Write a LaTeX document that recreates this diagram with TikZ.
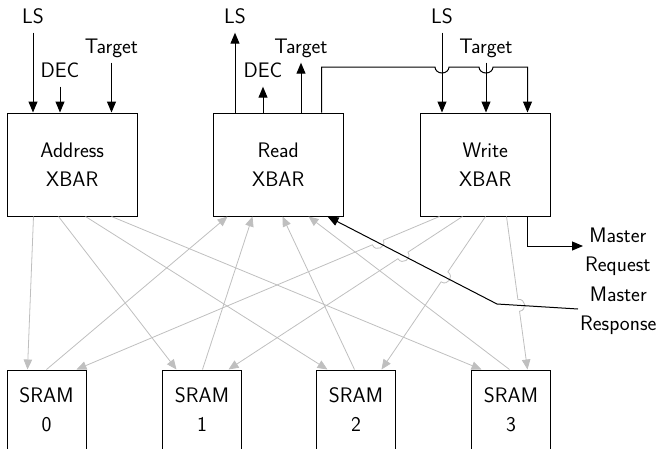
\documentclass[tikz,border=0pt]{standalone}
\usepackage{fontspec}
\usetikzlibrary{arrows.meta,calc,intersections}

\begin{document}
\begin{tikzpicture}[x=1pt,y=-1pt,
  lbl/.style={font=\fontsize{21}{29}\selectfont\sffamily, align=center},
  blk/.style={lbl, draw=black, line width=1pt, minimum width=129.5pt, minimum height=103pt, inner sep=0pt},
  mem/.style={lbl, draw=black, line width=1pt, minimum width=79pt, minimum height=80pt, inner sep=0pt},
  toplbl/.style={lbl, inner xsep=0pt, inner ysep=9.5pt, text depth=0pt, anchor=base},
  sig/.style={line width=1pt, -{Triangle[length=11pt,width=9pt]}},
  xbar/.style={line width=0.8pt, draw=gray!50, -{Triangle[length=10pt,width=8.5pt]}},
]
\useasboundingbox (0,0) rectangle (659,448);

% crossbar blocks
\node[blk] (addr) at (72.25,164.5) {Address\\XBAR};
\node[blk] (rd)   at (278.25,164.5) {Read\\XBAR};
\node[blk] (wr)   at (485.25,164.5) {Write\\XBAR};

% memory banks
\foreach \i/\x in {0/46.5,1/202,2/356,3/511}
  \node[mem] (s\i) at (\x,410) {SRAM\\\i};

% control inputs and outputs
\node[toplbl] (lsA)  at (33,23)  {LS};
\node[toplbl] (decA) at (60,77)  {DEC};
\node[toplbl] (tgA)  at (111.5,53) {Target};
\node[toplbl] (lsR)  at (235,23) {LS};
\node[toplbl] (decR) at (263,77) {DEC};
\node[toplbl] (tgR)  at (301,53) {Target};
\node[toplbl] (lsW)  at (442,23) {LS};
\node[toplbl] (tgW)  at (486,53) {Target};

\draw[sig] (lsA.south)  -- (lsA.south |- addr.north);
\draw[sig] (decA.south) -- (decA.south |- addr.north);
\draw[sig] (tgA.south)  -- (tgA.south |- addr.north);
\draw[sig] (lsR.south |- rd.north)  -- (lsR.south);
\draw[sig] (decR.south |- rd.north) -- (decR.south);
\draw[sig] (tgR.south |- rd.north)  -- (tgR.south);
\draw[sig] (lsW.south)  -- (lsW.south |- wr.north);
\draw[sig] (tgW.south)  -- (tgW.south |- wr.north);

% read-to-write link, hopping over the write inputs
\coordinate (bus) at (0,67);
\coordinate (rdOut) at ($(rd.north west)+(108.5,0)$);
\coordinate (wrIn)  at ($(wr.north west)+(107.5,0)$);
\draw[sig] (rdOut) |- ($(lsW.south |- bus)+(-7,0)$)
  arc[start angle=180,end angle=360,x radius=7pt,y radius=6pt]
  -- ($(tgW.south |- bus)+(-7,0)$)
  arc[start angle=180,end angle=360,x radius=7pt,y radius=6pt]
  -- (wrIn |- bus) -- (wrIn);

% master ports
\node[lbl, inner sep=2pt, anchor=west] (mreq)  at (583,252) {Master\\Request};
\node[lbl, inner sep=2pt, anchor=west] (mresp) at (578,311) {Master\\Response};
\coordinate (wrOut) at ($(wr.south west)+(107.5,0)$);
\coordinate (rbend) at (497,304);
\coordinate (rdIn)  at ($(rd.south west)+(114.5,0)$);
\path[name path=resp] ($(mresp.west)+(0,-2)$) -- (rbend) -- (rdIn);

% crossbar ports on the block edges
\foreach \i/\dx in {0/26.5,1/51.5,2/78.5,3/104.5}
  \coordinate (a\i) at ($(addr.south west)+(\dx,0)$);
\foreach \i/\dx in {0/14.5,1/39.5,2/69.5,3/95.5}
  \coordinate (r\i) at ($(rd.south west)+(\dx,0)$);
\foreach \i/\dx in {0/19.5,1/42.5,2/65.5,3/86.5}
  \coordinate (w\i) at ($(wr.south west)+(\dx,0)$);
\foreach \i/\da/\dr/\dw in {0/21/40/70,1/14.5/40.5/66.5,2/11.5/38.5/65.5,3/10.5/38.5/56.5} {
  \coordinate (ma\i) at ($(s\i.north west)+(\da,0)$);
  \coordinate (mr\i) at ($(s\i.north west)+(\dr,0)$);
  \coordinate (mw\i) at ($(s\i.north west)+(\dw,0)$);
}

% crossbar wiring
\foreach \i in {0,...,3} {
  \draw[xbar] (a\i) -- (ma\i);
  \draw[xbar] (mr\i) -- (r\i);
  \path[name path=g\i] (w\i) -- (mw\i);
  \path[name intersections={of=resp and g\i, by=j\i}];
  \draw[xbar] (w\i) -- ($(j\i)!6pt!(w\i)$)
    to[bend left=90,looseness=1.7] ($(j\i)!6pt!(mw\i)$) -- (mw\i);
}

\draw[sig] (wrOut) |- ($(mreq.west)+(0,-6)$);
\draw[sig] ($(mresp.west)+(0,-2)$) -- (rbend) -- (rdIn);
\end{tikzpicture}
\end{document}
